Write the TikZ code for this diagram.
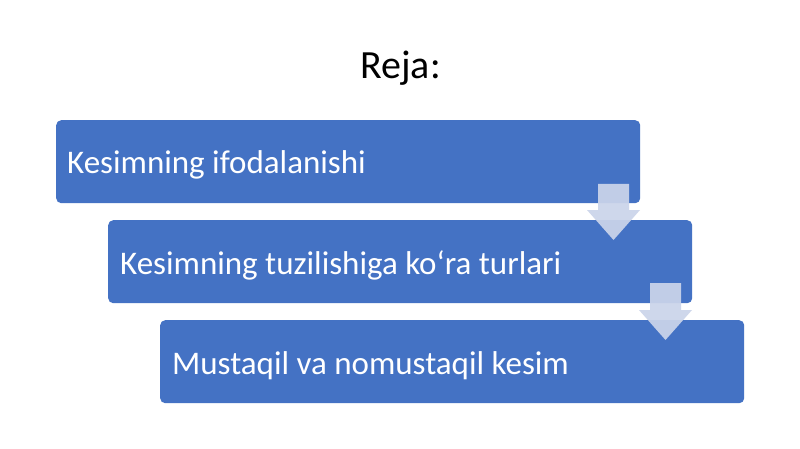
\documentclass[tikz,border=0pt]{standalone}
\usepackage{fontspec}
\setmainfont{Carlito}
\definecolor{boxblue}{HTML}{4472C4}
\definecolor{arrowfill}{HTML}{CBD4EA}
\begin{document}
\begin{tikzpicture}[x=1pt,y=-1pt,
  stagebox/.style={draw=none,fill=boxblue,rounded corners=5pt,minimum width=584pt,minimum height=83pt,anchor=north west},
  stagetext/.style={text=white,font=\fontsize{33}{38}\selectfont,anchor=base west,inner sep=0pt},
  downarrow/.style={fill=arrowfill,fill opacity=0.93,draw=none}]
\fill[white] (0,0) rectangle (800,449);
\useasboundingbox (0,0) rectangle (800,449);
\node[font=\fontsize{40}{44}\selectfont,anchor=base] (title) at (400.5,79) {Reja:};
\node[stagebox] (b1) at (56,120) {};
\node[stagebox] (b2) at (108,220) {};
\node[stagebox] (b3) at (160,320) {};
\node[stagetext] (t1) at ([xshift=11pt,yshift=-54pt]b1.north west) {Kesimning ifodalanishi};
\node[stagetext] (t2) at ([xshift=12pt,yshift=-54pt]b2.north west) {Kesimning tuzilishiga ko‘ra turlari};
\node[stagetext] (t3) at ([xshift=12pt,yshift=-54pt]b3.north west) {Mustaqil va nomustaqil kesim};
\fill[downarrow] (598,184) -- (629,184) -- (629,210) -- (640,210) -- (613.5,240) -- (587,210) -- (598,210) -- cycle;
\fill[downarrow] (650,283) -- (681,283) -- (681,310) -- (692,310) -- (665.5,340) -- (639,310) -- (650,310) -- cycle;
\end{tikzpicture}
\end{document}
